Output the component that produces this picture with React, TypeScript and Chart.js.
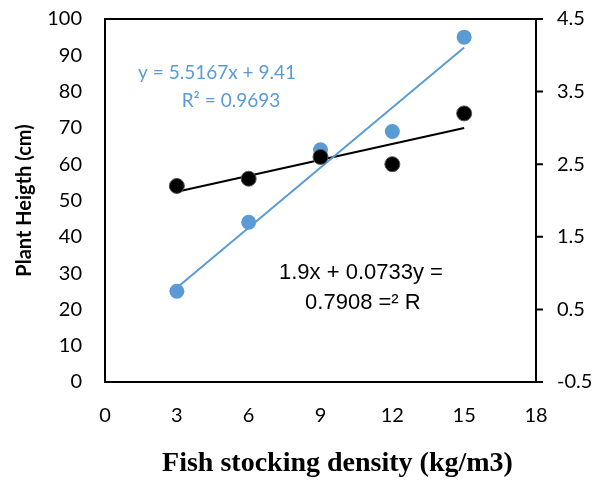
import React, { useEffect, useRef } from "react";
import { Chart, registerables } from "chart.js";

Chart.register(...registerables);

// ---- data ----
const densities = [3, 6, 9, 12, 15];
const plantHeight = [25, 44, 64, 69, 95];
const secondSeries = [2.2, 2.3, 2.6, 2.5, 3.2];
const blueSlope = 5.5167;
const blueIntercept = 9.41;
const blackSlope = 0.0733;
const blackIntercept = 1.9;
const blueEquation = ["y = 5.5167x + 9.41", "R² = 0.9693"];
const blackEquation = ["1.9x + 0.0733y =", "0.7908 =² R"];
const xTitle = "Fish stocking density (kg/m3)";
const yTitle = "Plant Heigth (cm)";

const BLUE = "#5B9BD5";

const trendEnds = [densities[0], densities[densities.length - 1]];

const boxAndTextPlugin = {
  id: "boxAndText",
  afterDatasetsDraw(chart: any) {
    const { ctx, chartArea, scales } = chart;
    const { left, right, top, bottom } = chartArea;
    ctx.save();
    // frame
    ctx.strokeStyle = "#000";
    ctx.lineWidth = 2;
    ctx.beginPath();
    ctx.moveTo(left, top);
    ctx.lineTo(right, top);
    ctx.lineTo(right, bottom);
    ctx.lineTo(left, bottom);
    ctx.closePath();
    ctx.stroke();

    // right axis tick marks
    ctx.beginPath();
    for (const t of scales.y2.ticks) {
      const py = scales.y2.getPixelForValue(t.value);
      ctx.moveTo(right, py);
      ctx.lineTo(right + 7, py);
    }
    ctx.stroke();

    ctx.textAlign = "center";
    ctx.textBaseline = "middle";
    // blue equation
    ctx.fillStyle = BLUE;
    ctx.font = "19px Lato";
    ctx.fillText(blueEquation[0], scales.x.getPixelForValue(4.68), scales.y.getPixelForValue(85.1));
    ctx.fillText(blueEquation[1], scales.x.getPixelForValue(5.26), scales.y.getPixelForValue(77.4));
    // black equation
    ctx.fillStyle = "#000";
    ctx.font = "22px 'Liberation Sans'";
    ctx.fillText(blackEquation[0], scales.x.getPixelForValue(10.69), scales.y.getPixelForValue(30.0));
    ctx.fillText(blackEquation[1], scales.x.getPixelForValue(10.77), scales.y.getPixelForValue(21.8));

    // x title
    ctx.font = "bold 28px 'Liberation Serif'";
    ctx.fillText(xTitle, (left + right) / 2 + 17, 464);
    ctx.restore();
  },
};

export default function App() {
  const ref = useRef<HTMLCanvasElement>(null);

  useEffect(() => {
    if (!ref.current) return;
    const chart = new Chart(ref.current, {
      type: "scatter",
      data: {
        datasets: [
          {
            type: "scatter",
            data: densities.map((x, i) => ({ x, y: secondSeries[i] })),
            yAxisID: "y2",
            backgroundColor: "#000",
            borderColor: "#555",
            borderWidth: 1,
            pointRadius: 7.5,
            order: 0,
          },
          {
            type: "scatter",
            data: densities.map((x, i) => ({ x, y: plantHeight[i] })),
            yAxisID: "y",
            backgroundColor: BLUE,
            borderColor: BLUE,
            borderWidth: 0,
            pointRadius: 7.5,
            order: 1,
          },
          {
            type: "line",
            data: trendEnds.map((x) => ({ x, y: blueSlope * x + blueIntercept })),
            yAxisID: "y",
            borderColor: BLUE,
            borderWidth: 2,
            pointRadius: 0,
            fill: false,
            order: 2,
          },
          {
            type: "line",
            data: trendEnds.map((x) => ({ x, y: blackSlope * x + blackIntercept })),
            yAxisID: "y2",
            borderColor: "#000",
            borderWidth: 2,
            pointRadius: 0,
            fill: false,
            order: 2,
          },
        ] as any,
      },
      options: {
        responsive: false,
        animation: false,
        layout: { padding: { top: 19, left: 0, right: 0, bottom: 0 } },
        plugins: {
          legend: { display: false },
          tooltip: { enabled: false },
        },
        scales: {
          x: {
            type: "linear",
            min: 0,
            max: 18,
            ticks: {
              stepSize: 3,
              padding: 0,
              color: "#000",
              font: { family: "Lato", size: 20 },
            },
            grid: { display: false, drawTicks: true, tickLength: 22 },
            border: { display: false },
            afterFit: (s: any) => {
              s.height = 101;
            },
          },
          y: {
            type: "linear",
            position: "left",
            min: 0,
            max: 100,
            ticks: {
              stepSize: 10,
              padding: 0,
              color: "#000",
              font: { family: "Lato", size: 20 },
            },
            grid: { display: false, drawTicks: true, tickLength: 23 },
            border: { display: false },
            title: {
              display: true,
              text: yTitle,
              color: "#000",
              font: { family: "Lato", size: 20, weight: "bold" },
              padding: { top: 13, bottom: 0 },
            },
            afterFit: (s: any) => {
              s.width = 105;
            },
          },
          y2: {
            type: "linear",
            position: "right",
            min: -0.5,
            max: 4.5,
            ticks: {
              stepSize: 1,
              padding: 0,
              color: "#000",
              font: { family: "Lato", size: 20 },
              callback: (v: any) => Number(v).toFixed(1),
            },
            grid: { display: false, drawTicks: true, tickLength: 21 },
            border: { display: false },
            afterFit: (s: any) => {
              s.width = 61;
            },
          },
        },
      } as any,
      plugins: [boxAndTextPlugin],
    });
    return () => chart.destroy();
  }, []);

  return (
    <div style={{ position: "absolute", left: 0, top: 0, width: 597, height: 483, background: "#fff" }}>
      <canvas ref={ref} width={597} height={483} style={{ display: "block" }} />
    </div>
  );
}
